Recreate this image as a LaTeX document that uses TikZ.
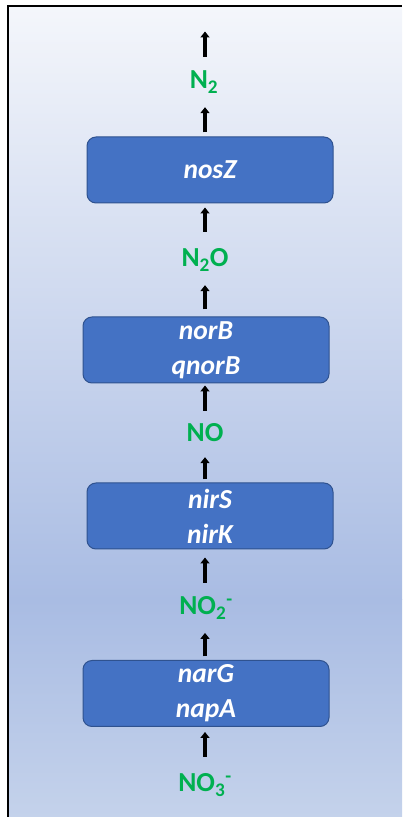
\documentclass[tikz,border=0pt]{standalone}
\usepackage{fontspec}
\setmainfont{Carlito}
\usetikzlibrary{arrows.meta}
\definecolor{boxblue}{HTML}{4472C4}
\definecolor{boxedge}{HTML}{2F528F}
\definecolor{chemgreen}{HTML}{00B050}
\definecolor{bgtop}{HTML}{F4F6FB}
\definecolor{bgmid}{HTML}{A9BCE3}
\definecolor{bgbot}{HTML}{C4D2EB}
\begin{document}
\begin{tikzpicture}[x=1pt,y=1pt,
  genebox/.style={draw=boxedge, line width=1pt, fill=boxblue, rounded corners=9pt,
    minimum width=246pt, minimum height=66pt, inner sep=0pt, text=white,
    font=\fontsize{27.5}{35}\selectfont\bfseries\itshape, align=center},
  chem/.style={text=chemgreen, font=\fontsize{27.5}{30}\selectfont\bfseries,
    inner sep=0pt, text height=18pt, text depth=0pt, anchor=base},
  arr/.style={line width=4.5pt, -{Triangle[width=9pt,length=6pt]}}]
\useasboundingbox (0,0) rectangle (402,817);
\fill[white] (0,0) rectangle (402,817);
\shade[top color=bgtop, bottom color=bgmid] (8,217) rectangle (402,811);
\shade[top color=bgmid, bottom color=bgbot] (8,0) rectangle (402,217.5);
\draw[line width=2pt] (8,0) -- (8,811) -- (402,811);

\coordinate (ax) at (205,0);
\coordinate (top) at (205,785.5);

\node[genebox] (nos) at (210,647) {nosZ};
\node[genebox] (nor) at (206,467) {norB\\qnorB};
\node[genebox] (nir) at (210,301) {nirS\\nirK};
\node[genebox] (nar) at (206,123.5) {narG\\napA};

\node[chem] (n2)  at (204,728) {N\textsubscript{2}};
\node[chem] (n2o) at (205,550) {N\textsubscript{2}O};
\node[chem] (no)  at (205,375) {NO};
\node[chem] (no2) at (206,202) {NO\textsubscript{2}\textsuperscript{-}};
\node[chem] (no3) at (205,25)  {NO\textsubscript{3}\textsuperscript{-}};

\draw[arr, shorten <=14pt] (n2.north -| ax) -- (top);
\draw[arr, shorten <=4pt, shorten >=18pt] (nos.north -| ax) -- (n2.south -| ax);
\draw[arr, shorten <=17pt, shorten >=4pt] (n2o.north -| ax) -- (nos.south -| ax);
\draw[arr, shorten <=7pt, shorten >=18pt] (nor.north -| ax) -- (n2o.south -| ax);
\draw[arr, shorten <=13pt, shorten >=2pt] (no.north -| ax) -- (nor.south -| ax);
\draw[arr, shorten <=3pt, shorten >=15pt] (nir.north -| ax) -- (no.south -| ax);
\draw[arr, shorten <=14pt, shorten >=8pt] (no2.north -| ax) -- (nir.south -| ax);
\draw[arr, shorten <=3.5pt, shorten >=17.7pt] (nar.north -| ax) -- (no2.south -| ax);
\draw[arr, shorten <=17pt, shorten >=5pt] (no3.north -| ax) -- (nar.south -| ax);
\end{tikzpicture}
\end{document}
